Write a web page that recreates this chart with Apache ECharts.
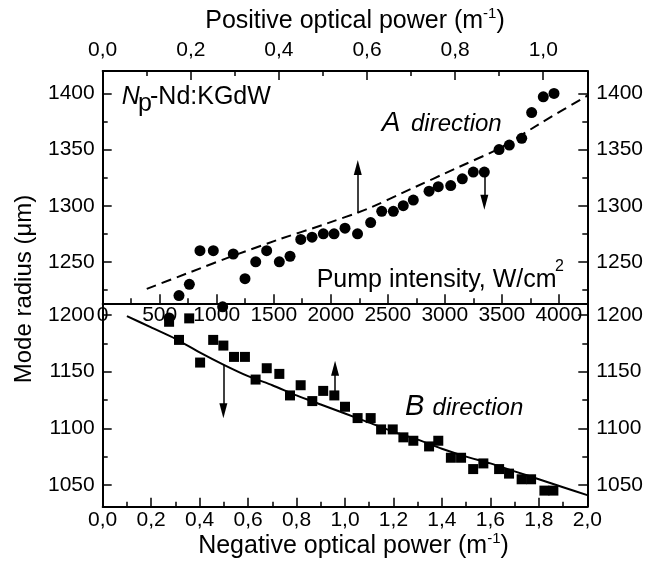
<!DOCTYPE html>
<html>
<head>
<meta charset="utf-8">
<style>
  html, body { margin: 0; padding: 0; background: #fff; }
  #chart { width: 659px; height: 563px; }
</style>
<script src="https://cdn.jsdelivr.net/npm/echarts@6.0.0/dist/echarts.min.js"></script>
</head>
<body>
<div id="chart"></div>
<script>
  // A direction: pump intensity (W/cm2) vs mode radius (um)
  const pumpA = [583, 669, 760, 853, 970, 1052, 1145, 1248, 1342, 1438, 1549, 1643, 1737, 1836, 1935, 2029,
    2125, 2235, 2350, 2447, 2549, 2636, 2724, 2862, 2943, 3052, 3154, 3250, 3347, 3476, 3566, 3675, 3762, 3864, 3958]
  const radiusA = [1200, 1220, 1230, 1260, 1260, 1210, 1257, 1235, 1250, 1260, 1250, 1255, 1270, 1272, 1275, 1275,
    1280, 1275, 1285, 1295, 1295, 1300, 1305, 1313, 1317, 1318, 1324, 1330, 1330, 1350, 1354, 1360, 1383, 1397, 1400]
  // dashed curve vs positive optical power (m-1)
  const powerFitA = [0.1, 0.2, 0.3, 0.4, 0.5, 0.6, 0.7, 0.8, 0.9, 1.0, 1.1]
  const radiusFitA = [1226, 1241, 1256, 1270, 1283, 1297, 1315, 1333, 1351, 1375, 1398]

  // B direction: negative optical power (m-1) vs mode radius (um)
  const powerB = [0.274, 0.315, 0.357, 0.402, 0.456, 0.498, 0.542, 0.587, 0.631, 0.677, 0.729, 0.773, 0.817,
    0.865, 0.910, 0.956, 1.000, 1.052, 1.106, 1.149, 1.197, 1.241, 1.282, 1.347, 1.385, 1.437, 1.479, 1.529,
    1.571, 1.636, 1.677, 1.729, 1.768, 1.823, 1.860]
  const radiusB = [1194, 1178, 1197, 1158, 1178, 1173, 1163, 1163, 1143, 1153, 1148, 1129, 1138, 1124, 1133,
    1129, 1119, 1109, 1109, 1099, 1099, 1092, 1089, 1084, 1089, 1074, 1074, 1064, 1069, 1064, 1060, 1055, 1055,
    1045, 1045]
  const powerFitB = [0.1, 0.2, 0.3, 0.4, 0.5, 0.6, 0.7, 0.8, 0.9, 1.0, 1.1, 1.2, 1.3, 1.4, 1.5, 1.6, 1.7, 1.8, 1.9, 2.0]
  const radiusFitB = [1199, 1189, 1179, 1167, 1156, 1146, 1138, 1129, 1121, 1113, 1105, 1097, 1090, 1082, 1075,
    1069, 1062, 1055, 1048, 1041]

  // arrows [x, yFrom, yTo]
  const arrowUpA = [0.579, 1293.5, 1334]
  const arrowDownA = [3347, 1329, 1303]
  const arrowDownB = [0.498, 1156, 1115.4]
  const arrowUpB = [0.959, 1132, 1153]

  // tick values
  const pumpTicks = [0, 500, 1000, 1500, 2000, 2500, 3000, 3500, 4000]
  const pumpMinor = [250, 750, 1250, 1750, 2250, 2750, 3250, 3750]
  const posTicks = [0, 0.2, 0.4, 0.6, 0.8, 1.0]
  const posMinor = [0.1, 0.3, 0.5, 0.7, 0.9]
  const negTicks = [0, 0.2, 0.4, 0.6, 0.8, 1.0, 1.2, 1.4, 1.6, 1.8, 2.0]
  const negMinor = [0.1, 0.3, 0.5, 0.7, 0.9, 1.1, 1.3, 1.5, 1.7, 1.9]
  const topTicks = [1250, 1300, 1350, 1400]
  const topMinor = [1225, 1275, 1325, 1375]
  const botTicks = [1050, 1100, 1150, 1200]
  const botMinor = [1075, 1125, 1175]

  const FONT = 'Liberation Sans, Arial, sans-serif'
  const comma = v => v.toFixed(1).replace('.', ',')
  const plain = v => String(Math.round(v))

  function axis (gridIndex, position, min, max, ticks, len, showLine, label) {
    return {
      type: 'value',
      gridIndex: gridIndex,
      position: position,
      min: min,
      max: max,
      axisLine: {show: showLine, onZero: false, lineStyle: {color: '#000', width: 2}},
      axisTick: {show: true, inside: true, length: len, customValues: ticks, lineStyle: {color: '#000', width: 1.5}},
      axisLabel: label
        ? Object.assign({customValues: ticks, color: '#000', fontFamily: FONT, fontSize: 21, formatter: plain}, label)
        : {show: false},
      splitLine: {show: false},
      minorTick: {show: false}
    }
  }

  const titleRich = {
    a: {fontFamily: FONT, fontSize: 25, color: '#000', lineHeight: 30},
    s: {fontFamily: FONT, fontSize: 15, color: '#000', lineHeight: 16, verticalAlign: 'top'}
  }

  const xPosTop = axis(0, 'top', 0, 1.1, posTicks, 9, true, {margin: 10, formatter: comma})
  xPosTop.name = '{a|Positive optical power (m}{s|-1}{a|)}'
  xPosTop.nameLocation = 'middle'
  xPosTop.nameGap = 35
  xPosTop.nameTextStyle = {rich: titleRich, padding: [0, 0, 0, 20]}

  const xNeg = axis(1, 'bottom', 0, 2.0, negTicks, 9, true, {margin: 3, formatter: comma})
  xNeg.name = '{a|Negative optical power (m}{s|-1}{a|)}'
  xNeg.nameLocation = 'middle'
  xNeg.nameGap = 24
  xNeg.nameTextStyle = {rich: titleRich, padding: [0, 0, 0, 17]}

  const chart = echarts.init(document.getElementById('chart'))

  const txt = (x, y, text, font, extra) => Object.assign({
    type: 'text',
    x: x,
    y: y,
    style: {
      text: text,
      font: font + ' "Liberation Sans", Arial, sans-serif',
      fill: '#000',
      align: 'left',
      textAlign: 'left',
      verticalAlign: 'middle',
      textVerticalAlign: 'middle'
    }
  }, extra || {})

  const yTitle = txt(24, 289, 'Mode radius (μm)', '24px', {rotation: Math.PI / 2})
  yTitle.style.align = 'center'
  yTitle.style.textAlign = 'center'

  const arrowStyle = {
    type: 'lines',
    coordinateSystem: 'cartesian2d',
    symbol: ['none', 'triangle'],
    symbolSize: [1, [8, 15]],
    lineStyle: {color: '#000', width: 1.5, opacity: 1, curveness: 0},
    silent: true,
    z: 5
  }
  const arrow = (xi, yi, a) => Object.assign({}, arrowStyle, {
    xAxisIndex: xi,
    yAxisIndex: yi,
    data: [{coords: [[a[0], a[1]], [a[0], a[2]]]}]
  })

  chart.setOption({
    animation: false,
    backgroundColor: '#fff',
    grid: [
      {left: 102.7, top: 71, width: 484.6, height: 232.3, outerBoundsMode: 'none', containLabel: false},
      {left: 102.7, top: 303.3, width: 484.6, height: 203.4, outerBoundsMode: 'none', containLabel: false}
    ],
    xAxis: [
      axis(0, 'bottom', 0, 4250, pumpTicks, 9, true, {margin: 1}),
      axis(0, 'bottom', 0, 4250, pumpMinor, 5, false, null),
      xPosTop,
      axis(0, 'top', 0, 1.1, posMinor, 5, false, null),
      xNeg,
      axis(1, 'bottom', 0, 2.0, negMinor, 5, false, null)
    ],
    yAxis: [
      axis(0, 'left', 1213.1, 1420, topTicks, 9, true, {margin: 8}),
      axis(0, 'left', 1213.1, 1420, topMinor, 5, false, null),
      axis(0, 'right', 1213.1, 1420, topTicks, 9, true, {margin: 9}),
      axis(0, 'right', 1213.1, 1420, topMinor, 5, false, null),
      axis(1, 'left', 1030.8, 1210.3, botTicks, 9, true, {margin: 8}),
      axis(1, 'left', 1030.8, 1210.3, botMinor, 5, false, null),
      axis(1, 'right', 1030.8, 1210.3, botTicks, 9, true, {margin: 9}),
      axis(1, 'right', 1030.8, 1210.3, botMinor, 5, false, null)
    ],
    series: [
      {
        name: 'A fit',
        type: 'line',
        xAxisIndex: 2,
        yAxisIndex: 0,
        data: powerFitA.map((p, i) => [p, radiusFitA[i]]),
        showSymbol: false,
        symbol: 'none',
        smooth: 0.2,
        lineStyle: {color: '#000', width: 2, type: [10, 6]}
      },
      {
        name: 'A direction',
        type: 'scatter',
        xAxisIndex: 0,
        yAxisIndex: 0,
        clip: false,
        symbol: 'circle',
        symbolSize: 11,
        itemStyle: {color: '#000', opacity: 1},
        data: pumpA.map((p, i) => [p, radiusA[i]])
      },
      {
        name: 'B fit',
        type: 'line',
        xAxisIndex: 4,
        yAxisIndex: 4,
        data: powerFitB.map((p, i) => [p, radiusFitB[i]]),
        showSymbol: false,
        symbol: 'none',
        smooth: 0.2,
        lineStyle: {color: '#000', width: 2}
      },
      {
        name: 'B direction',
        type: 'scatter',
        xAxisIndex: 4,
        yAxisIndex: 4,
        clip: false,
        symbol: 'rect',
        symbolSize: 10,
        itemStyle: {color: '#000', opacity: 1},
        data: powerB.map((p, i) => [p, radiusB[i]])
      },
      arrow(2, 0, arrowUpA),
      arrow(0, 0, arrowDownA),
      arrow(4, 4, arrowDownB),
      arrow(4, 4, arrowUpB)
    ],
    graphic: [
      txt(121.7, 97.5, 'N', 'italic 25px'),
      txt(138, 104.5, 'p', '25px'),
      txt(150, 97.5, '-Nd:KGdW', '25px'),
      txt(381.7, 123, 'A', 'italic 28px'),
      txt(411, 124, 'direction', 'italic 24px'),
      txt(405, 406.7, 'B', 'italic 29px'),
      txt(432.6, 408.7, 'direction', 'italic 24px'),
      txt(316.7, 279.7, 'Pump intensity, W/cm', '25px'),
      txt(555, 267, '2', '16px'),
      yTitle
    ]
  })
</script>
</body>
</html>
